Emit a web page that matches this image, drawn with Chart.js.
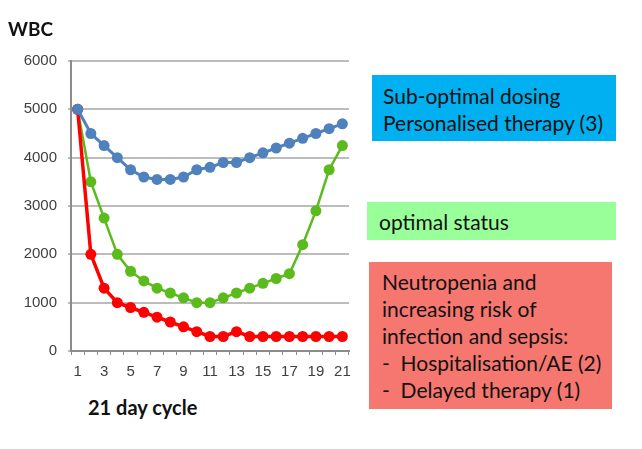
<!DOCTYPE html>
<html>
<head>
<meta charset="utf-8">
<script src="https://cdn.jsdelivr.net/npm/chart.js@4"></script>
<style>
  body { margin: 0; background: #fff; width: 642px; height: 449px; position: relative; overflow: hidden; font-family: Lato, sans-serif; }
  #wrap { position: absolute; left: 0; top: 0; width: 360px; height: 390px; }
  .lbl { position: absolute; font-weight: bold; color: #111; line-height: 24px; }
  .box { position: absolute; box-sizing: border-box; font-size: 21px; color: #111; line-height: 27px; }
</style>
</head>
<body>
<div id="wrap"><canvas id="wbcChart" width="360" height="390"></canvas></div>
<div class="lbl" style="left:8px; top:17px; font-size:19px;">WBC</div>
<div class="lbl" style="left:88px; top:395px; font-size:20px;">21 day cycle</div>

<div class="box" style="left:372px; top:75px; width:244px; height:66px; background:#00b0f0; padding:7px 0 0 11px;">Sub-optimal dosing<br>Personalised therapy (3)</div>
<div class="box" style="left:367px; top:202px; width:249px; height:38px; background:#99ff99; padding:6px 0 0 12px;">optimal status</div>
<div class="box" style="left:369px; top:262px; width:243px; height:147px; background:#f5776f; padding:6px 0 0 13px;">Neutropenia and<br>increasing risk of<br>infection and sepsis:<br>-&nbsp;&nbsp;Hospitalisation/AE (2)<br>-&nbsp;&nbsp;Delayed therapy (1)</div>

<script>
  // day of cycle
  const days = ['1','2','3','4','5','6','7','8','9','10','11','12','13','14','15','16','17','18','19','20','21'];

  // WBC per day, three scenarios
  const subOptimal = [5000, 4500, 4250, 4000, 3750, 3600, 3550, 3550, 3600, 3750, 3800, 3900, 3900, 4000, 4100, 4200, 4300, 4400, 4500, 4600, 4700];
  const optimal = [5000, 3500, 2750, 2000, 1650, 1450, 1300, 1200, 1100, 1000, 1000, 1100, 1200, 1300, 1400, 1500, 1600, 2200, 2900, 3750, 4250];
  const neutropenia = [5000, 2000, 1300, 1000, 900, 800, 700, 600, 500, 400, 300, 300, 400, 300, 300, 300, 300, 300, 300, 300, 300];

  const yMin = 0, yMax = 6000, yStep = 1000;

  function series(data, color, width) {
    return {
      data: data,
      borderColor: color,
      backgroundColor: color,
      pointBackgroundColor: color,
      pointBorderColor: color,
      borderWidth: width,
      pointRadius: 5.5,
      pointBorderWidth: 0,
      tension: 0
    };
  }

  // first dataset is drawn on top
  const ctx = document.getElementById('wbcChart').getContext('2d');
  new Chart(ctx, {
    type: 'line',
    data: {
      labels: days,
      datasets: [
        series(subOptimal, '#4f81bd', 3),
        series(neutropenia, '#ff0000', 3.5),
        series(optimal, '#5cbb1c', 2.5)
      ]
    },
    options: {
      responsive: false,
      animation: false,
      layout: { padding: { left: 0, right: 11, top: 61, bottom: 0 } },
      plugins: { legend: { display: false }, tooltip: { enabled: false } },
      scales: {
        x: {
          offset: true,
          grid: { display: true, drawOnChartArea: false, offset: true, tickLength: 4, color: '#8c8c8c' },
          border: { color: '#8c8c8c', width: 2 },
          ticks: {
            autoSkip: false, maxRotation: 0, padding: 8,
            color: '#404040', font: { family: 'Liberation Sans', size: 15 },
            callback: function(v, i) { return i % 2 === 0 ? this.getLabelForValue(v) : ''; }
          },
          afterFit: s => { s.height = 39; }
        },
        y: {
          min: yMin, max: yMax,
          ticks: { stepSize: yStep, padding: 11, color: '#404040', font: { family: 'Liberation Sans', size: 15 },
                   callback: v => String(v) },
          grid: { color: '#bcbcbc', lineWidth: 2, tickLength: 3 },
          border: { color: '#8c8c8c', width: 2 },
          afterFit: s => { s.width = 71; }
        }
      }
    }
  });
</script>
</body>
</html>
